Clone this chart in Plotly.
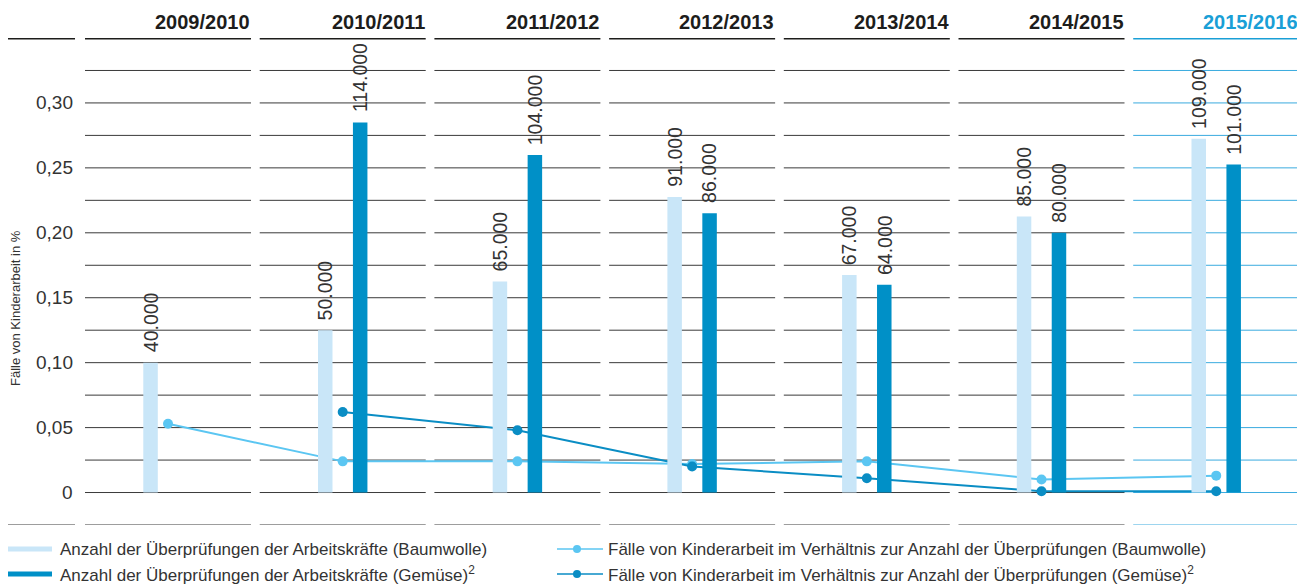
import plotly.graph_objects as go

# ---- data ----
seasons = ["2009/2010", "2010/2011", "2011/2012", "2012/2013", "2013/2014", "2014/2015", "2015/2016"]
checks_cotton = [40000, 50000, 65000, 91000, 67000, 85000, 109000]
checks_veg = [None, 114000, 104000, 86000, 64000, 80000, 101000]
rate_cotton = [0.053, 0.024, 0.024, 0.022, 0.024, 0.010, 0.013]
rate_veg = [None, 0.062, 0.048, 0.020, 0.011, 0.001, 0.001]
tick_vals = [0, 0.05, 0.10, 0.15, 0.20, 0.25, 0.30]
tick_text = ["0", "0,05", "0,10", "0,15", "0,20", "0,25", "0,30"]

legend_bar_cotton = "Anzahl der Überprüfungen der Arbeitskräfte (Baumwolle)"
legend_bar_veg = "Anzahl der Überprüfungen der Arbeitskräfte (Gemüse)<sup>2</sup>"
legend_line_cotton = "Fälle von Kinderarbeit im Verhältnis zur Anzahl der Überprüfungen (Baumwolle)"
legend_line_veg = "Fälle von Kinderarbeit im Verhältnis zur Anzahl der Überprüfungen (Gemüse)<sup>2</sup>"
y_title = "Fälle von Kinderarbeit in %"

# ---- style ----
FONT = "Liberation Sans, Arial, sans-serif"
C_LIGHT_BAR = "#c9e6f8"
C_DARK_BAR = "#0090c7"
C_LIGHT_LINE = "#5bc6f2"
C_DARK_LINE = "#0a8dc4"
C_GRID = "#3a3a3a"
C_GRID_HL = "#3aabdf"
C_HEAD = "#1d1d1b"
C_HEAD_HL = "#1a9fd6"
C_TEXT = "#333333"

Y_MIN, Y_MAX = -0.025, 0.35
SCALE = 400000  # count corresponding to 1 % on the left axis
X_MIN, X_MAX = -0.9159, 6.4968
LEFT_END = -0.5323
HALF = 0.4751
BW = 0.083
OFF = 0.1

n = len(seasons)
xs = list(range(n))

fig = go.Figure()

fig.add_trace(go.Bar(
    x=xs, y=checks_cotton, yaxis="y2", width=BW, offset=-OFF - BW / 2,
    marker=dict(color=C_LIGHT_BAR, line=dict(width=0)), showlegend=False, hoverinfo="skip"))
fig.add_trace(go.Bar(
    x=xs, y=checks_veg, yaxis="y2", width=BW, offset=OFF - BW / 2,
    marker=dict(color=C_DARK_BAR, line=dict(width=0)), showlegend=False, hoverinfo="skip"))

fig.add_trace(go.Scatter(
    x=xs, y=rate_cotton, mode="lines+markers",
    line=dict(color=C_LIGHT_LINE, width=2), marker=dict(color=C_LIGHT_LINE, size=10),
    showlegend=False, hoverinfo="skip"))
fig.add_trace(go.Scatter(
    x=xs, y=rate_veg, mode="lines+markers",
    line=dict(color=C_DARK_LINE, width=2), marker=dict(color=C_DARK_LINE, size=10),
    showlegend=False, hoverinfo="skip"))

# page pixel -> paper coordinates (page body has an 8px margin)
W, H = 1295.0, 487.0
def px_x(p):
    return (p - 8) / W
def px_y(p):
    return (525 - p) / H

shapes = []
annotations = []

levels = [Y_MIN + 0.025 * k for k in range(15)]  # -0.025 .. 0.325
for i in range(n):
    hl = i == n - 1
    gc = C_GRID_HL if hl else C_GRID
    for lv in levels:
        shapes.append(dict(type="line", xref="x", yref="y", x0=i - HALF, x1=i + HALF, y0=lv, y1=lv,
                           line=dict(color=gc, width=1), layer="below"))
    shapes.append(dict(type="line", xref="x", yref="y", x0=i - HALF, x1=i + HALF, y0=Y_MAX, y1=Y_MAX,
                       line=dict(color=C_HEAD_HL if hl else C_HEAD, width=3), layer="below"))
    annotations.append(dict(x=i + HALF, y=px_y(21.5), xref="x", yref="paper", xanchor="right", yanchor="middle",
                            text="<b>%s</b>" % seasons[i], showarrow=False, xshift=1,
                            font=dict(family=FONT, size=20, color=C_HEAD_HL if hl else C_HEAD)))

# left label area
shapes.append(dict(type="line", xref="x", yref="y", x0=X_MIN, x1=LEFT_END, y0=Y_MAX, y1=Y_MAX,
                   line=dict(color=C_HEAD, width=3), layer="below"))
shapes.append(dict(type="line", xref="x", yref="y", x0=X_MIN, x1=LEFT_END, y0=Y_MIN, y1=Y_MIN,
                   line=dict(color=C_GRID, width=1), layer="below"))

for v, t in zip(tick_vals, tick_text):
    annotations.append(dict(x=LEFT_END, y=v, xref="x", yref="y", xanchor="right", yanchor="middle",
                            text=t, showarrow=False, font=dict(family=FONT, size=19, color=C_TEXT)))

def fmt(c):
    return f"{c:,}".replace(",", ".")

for i in range(n):
    for vals, off in ((checks_cotton, -OFF), (checks_veg, OFF)):
        c = vals[i]
        if c is None:
            continue
        annotations.append(dict(x=i + off, y=c, xref="x", yref="y2", xanchor="center", yanchor="bottom",
                                text=fmt(c), textangle=-90, showarrow=False, yshift=8,
                                font=dict(family=FONT, size=19.5, color=C_TEXT)))

annotations.append(dict(x=px_x(15), y=px_y(308), xref="paper", yref="paper", xanchor="center", yanchor="middle",
                        text=y_title, textangle=-90, showarrow=False,
                        font=dict(family=FONT, size=13, color=C_TEXT)))

# legend (custom)
for ypix, col, label in ((549, C_LIGHT_BAR, legend_bar_cotton), (574, C_DARK_BAR, legend_bar_veg)):
    shapes.append(dict(type="line", xref="paper", yref="paper", x0=px_x(8), x1=px_x(52),
                       y0=px_y(ypix), y1=px_y(ypix), line=dict(color=col, width=5)))
    annotations.append(dict(x=px_x(58), y=px_y(ypix), xref="paper", yref="paper", xanchor="left",
                            yanchor="middle", text=label, showarrow=False,
                            font=dict(family=FONT, size=17, color=C_TEXT)))

for ypix, col, label in ((549, C_LIGHT_LINE, legend_line_cotton), (574, C_DARK_LINE, legend_line_veg)):
    shapes.append(dict(type="line", xref="paper", yref="paper", x0=px_x(557), x1=px_x(603),
                       y0=px_y(ypix), y1=px_y(ypix), line=dict(color=col, width=1.5)))
    shapes.append(dict(type="circle", xref="paper", yref="paper",
                       x0=px_x(577 - 4), x1=px_x(577 + 4), y0=px_y(ypix + 4), y1=px_y(ypix - 4),
                       fillcolor=col, line=dict(width=0)))
    annotations.append(dict(x=px_x(606), y=px_y(ypix), xref="paper", yref="paper", xanchor="left",
                            yanchor="middle", text=label, showarrow=False,
                            font=dict(family=FONT, size=17, color=C_TEXT)))

fig.update_layout(
    width=1297, height=579,
    margin=dict(l=0, r=2, t=30, b=62),
    plot_bgcolor="white", paper_bgcolor="white",
    barmode="overlay",
    xaxis=dict(range=[X_MIN, X_MAX], visible=False, fixedrange=True),
    yaxis=dict(range=[Y_MIN, Y_MAX], visible=False, fixedrange=True),
    yaxis2=dict(range=[Y_MIN * SCALE, Y_MAX * SCALE], overlaying="y", visible=False, fixedrange=True),
    shapes=shapes,
    annotations=annotations,
    font=dict(family=FONT, color=C_TEXT),
)

fig.write_html("out.html", config={"displayModeBar": False})
